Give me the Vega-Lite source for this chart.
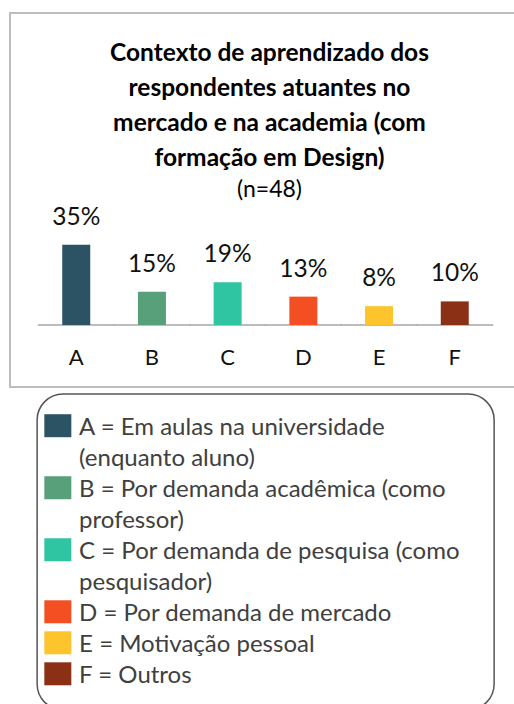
{
  "$schema": "https://vega.github.io/schema/vega-lite/v6.json",
  "padding": {"left": 9, "top": 12, "right": 0, "bottom": 0},
  "background": "white",
  "config": {"font": "Lato", "text": {"font": "Lato"}},
  "datasets": {
    "bars": [
      {"cat": "A", "value": 0.354},
      {"cat": "B", "value": 0.146},
      {"cat": "C", "value": 0.188},
      {"cat": "D", "value": 0.125},
      {"cat": "E", "value": 0.083},
      {"cat": "F", "value": 0.104}
    ],
    "legend": [
      {"n": 1, "cat": "A", "text": "A = Em aulas na universidade"},
      {"n": 2, "cat": null, "text": "(enquanto aluno)"},
      {"n": 3, "cat": "B", "text": "B = Por demanda acadêmica (como"},
      {"n": 4, "cat": null, "text": "professor)"},
      {"n": 5, "cat": "C", "text": "C = Por demanda de pesquisa (como"},
      {"n": 6, "cat": null, "text": "pesquisador)"},
      {"n": 7, "cat": "D", "text": "D = Por demanda de mercado"},
      {"n": 8, "cat": "E", "text": "E = Motivação pessoal"},
      {"n": 9, "cat": "F", "text": "F = Outros"}
    ]
  },
  "vconcat": [
    {
      "width": 511,
      "height": 374,
      "view": {"stroke": "#bdbdbd", "strokeWidth": 2},
      "title": {
        "text": ["Contexto de aprendizado dos", "respondentes atuantes no", "mercado e na academia (com", "formação em Design)"],
        "subtitle": "(n=48)",
        "font": "Lato",
        "fontSize": 24.5,
        "fontWeight": "bold",
        "color": "#000000",
        "lineHeight": 35,
        "subtitleFont": "Lato",
        "subtitleFontSize": 23,
        "subtitleFontWeight": "normal",
        "subtitleColor": "#000000",
        "subtitlePadding": 8,
        "anchor": "middle",
        "offset": -190,
        "dx": 4
      },
      "data": {"name": "bars"},
      "encoding": {
        "x": {
          "field": "cat",
          "type": "nominal",
          "axis": null,
          "scale": {"paddingInner": 0, "paddingOuter": 0.375}
        }
      },
      "layer": [
        {
          "mark": {"type": "tick", "color": "#a6a6a6", "thickness": 1.5, "size": 77, "orient": "horizontal", "opacity": 1},
          "encoding": {
            "y": {"datum": 0, "type": "quantitative", "axis": null, "scale": {"domain": [-0.2731, 1.3744], "nice": false, "zero": false}}
          }
        },
        {
          "mark": {"type": "bar", "size": 28},
          "encoding": {
            "y": {"field": "value", "type": "quantitative", "axis": null, "scale": {"domain": [-0.2731, 1.3744], "nice": false, "zero": false}},
            "y2": {"datum": 0},
            "color": {
              "field": "cat",
              "type": "nominal",
              "legend": null,
              "scale": {"domain": ["A", "B", "C", "D", "E", "F"], "range": ["#2c5364", "#58a079", "#2fc4a2", "#f44f22", "#fdc42d", "#8b3015"]}
            }
          }
        },
        {
          "mark": {"type": "text", "baseline": "alphabetic", "align": "center", "dy": -20, "fontSize": 24.5, "color": "#111111"},
          "encoding": {
            "y": {"field": "value", "type": "quantitative"},
            "text": {"field": "value", "type": "quantitative", "format": ".0%"}
          }
        },
        {
          "mark": {"type": "text", "baseline": "alphabetic", "align": "center", "fontSize": 22, "color": "#111111"},
          "encoding": {
            "y": {"datum": -0.176, "type": "quantitative"},
            "text": {"field": "cat", "type": "nominal"}
          }
        }
      ]
    },
    {
      "width": 457,
      "height": 316,
      "view": {"stroke": "#555555", "strokeWidth": 1.5, "cornerRadius": 26},
      "data": {"name": "legend"},
      "encoding": {
        "y": {"field": "n", "type": "quantitative", "axis": null, "scale": {"domain": [-0.313, 9.877], "reverse": true, "nice": false, "zero": false}}
      },
      "layer": [
        {
          "transform": [{"filter": "isValid(datum.cat)"}],
          "mark": {"type": "tick", "orient": "vertical", "size": 23, "thickness": 27, "yOffset": -9, "opacity": 1},
          "encoding": {
            "x": {"datum": 0.0453, "type": "quantitative", "axis": null, "scale": {"domain": [0, 1], "nice": false, "zero": false}},
            "color": {
              "field": "cat",
              "type": "nominal",
              "legend": null,
              "scale": {"domain": ["A", "B", "C", "D", "E", "F"], "range": ["#2c5364", "#58a079", "#2fc4a2", "#f44f22", "#fdc42d", "#8b3015"]}
            }
          }
        },
        {
          "mark": {"type": "text", "align": "left", "baseline": "alphabetic", "fontSize": 24, "color": "#404040"},
          "encoding": {
            "x": {"datum": 0.0919, "type": "quantitative"},
            "text": {"field": "text", "type": "nominal"}
          }
        }
      ]
    }
  ],
  "spacing": 5,
  "center": true
}
